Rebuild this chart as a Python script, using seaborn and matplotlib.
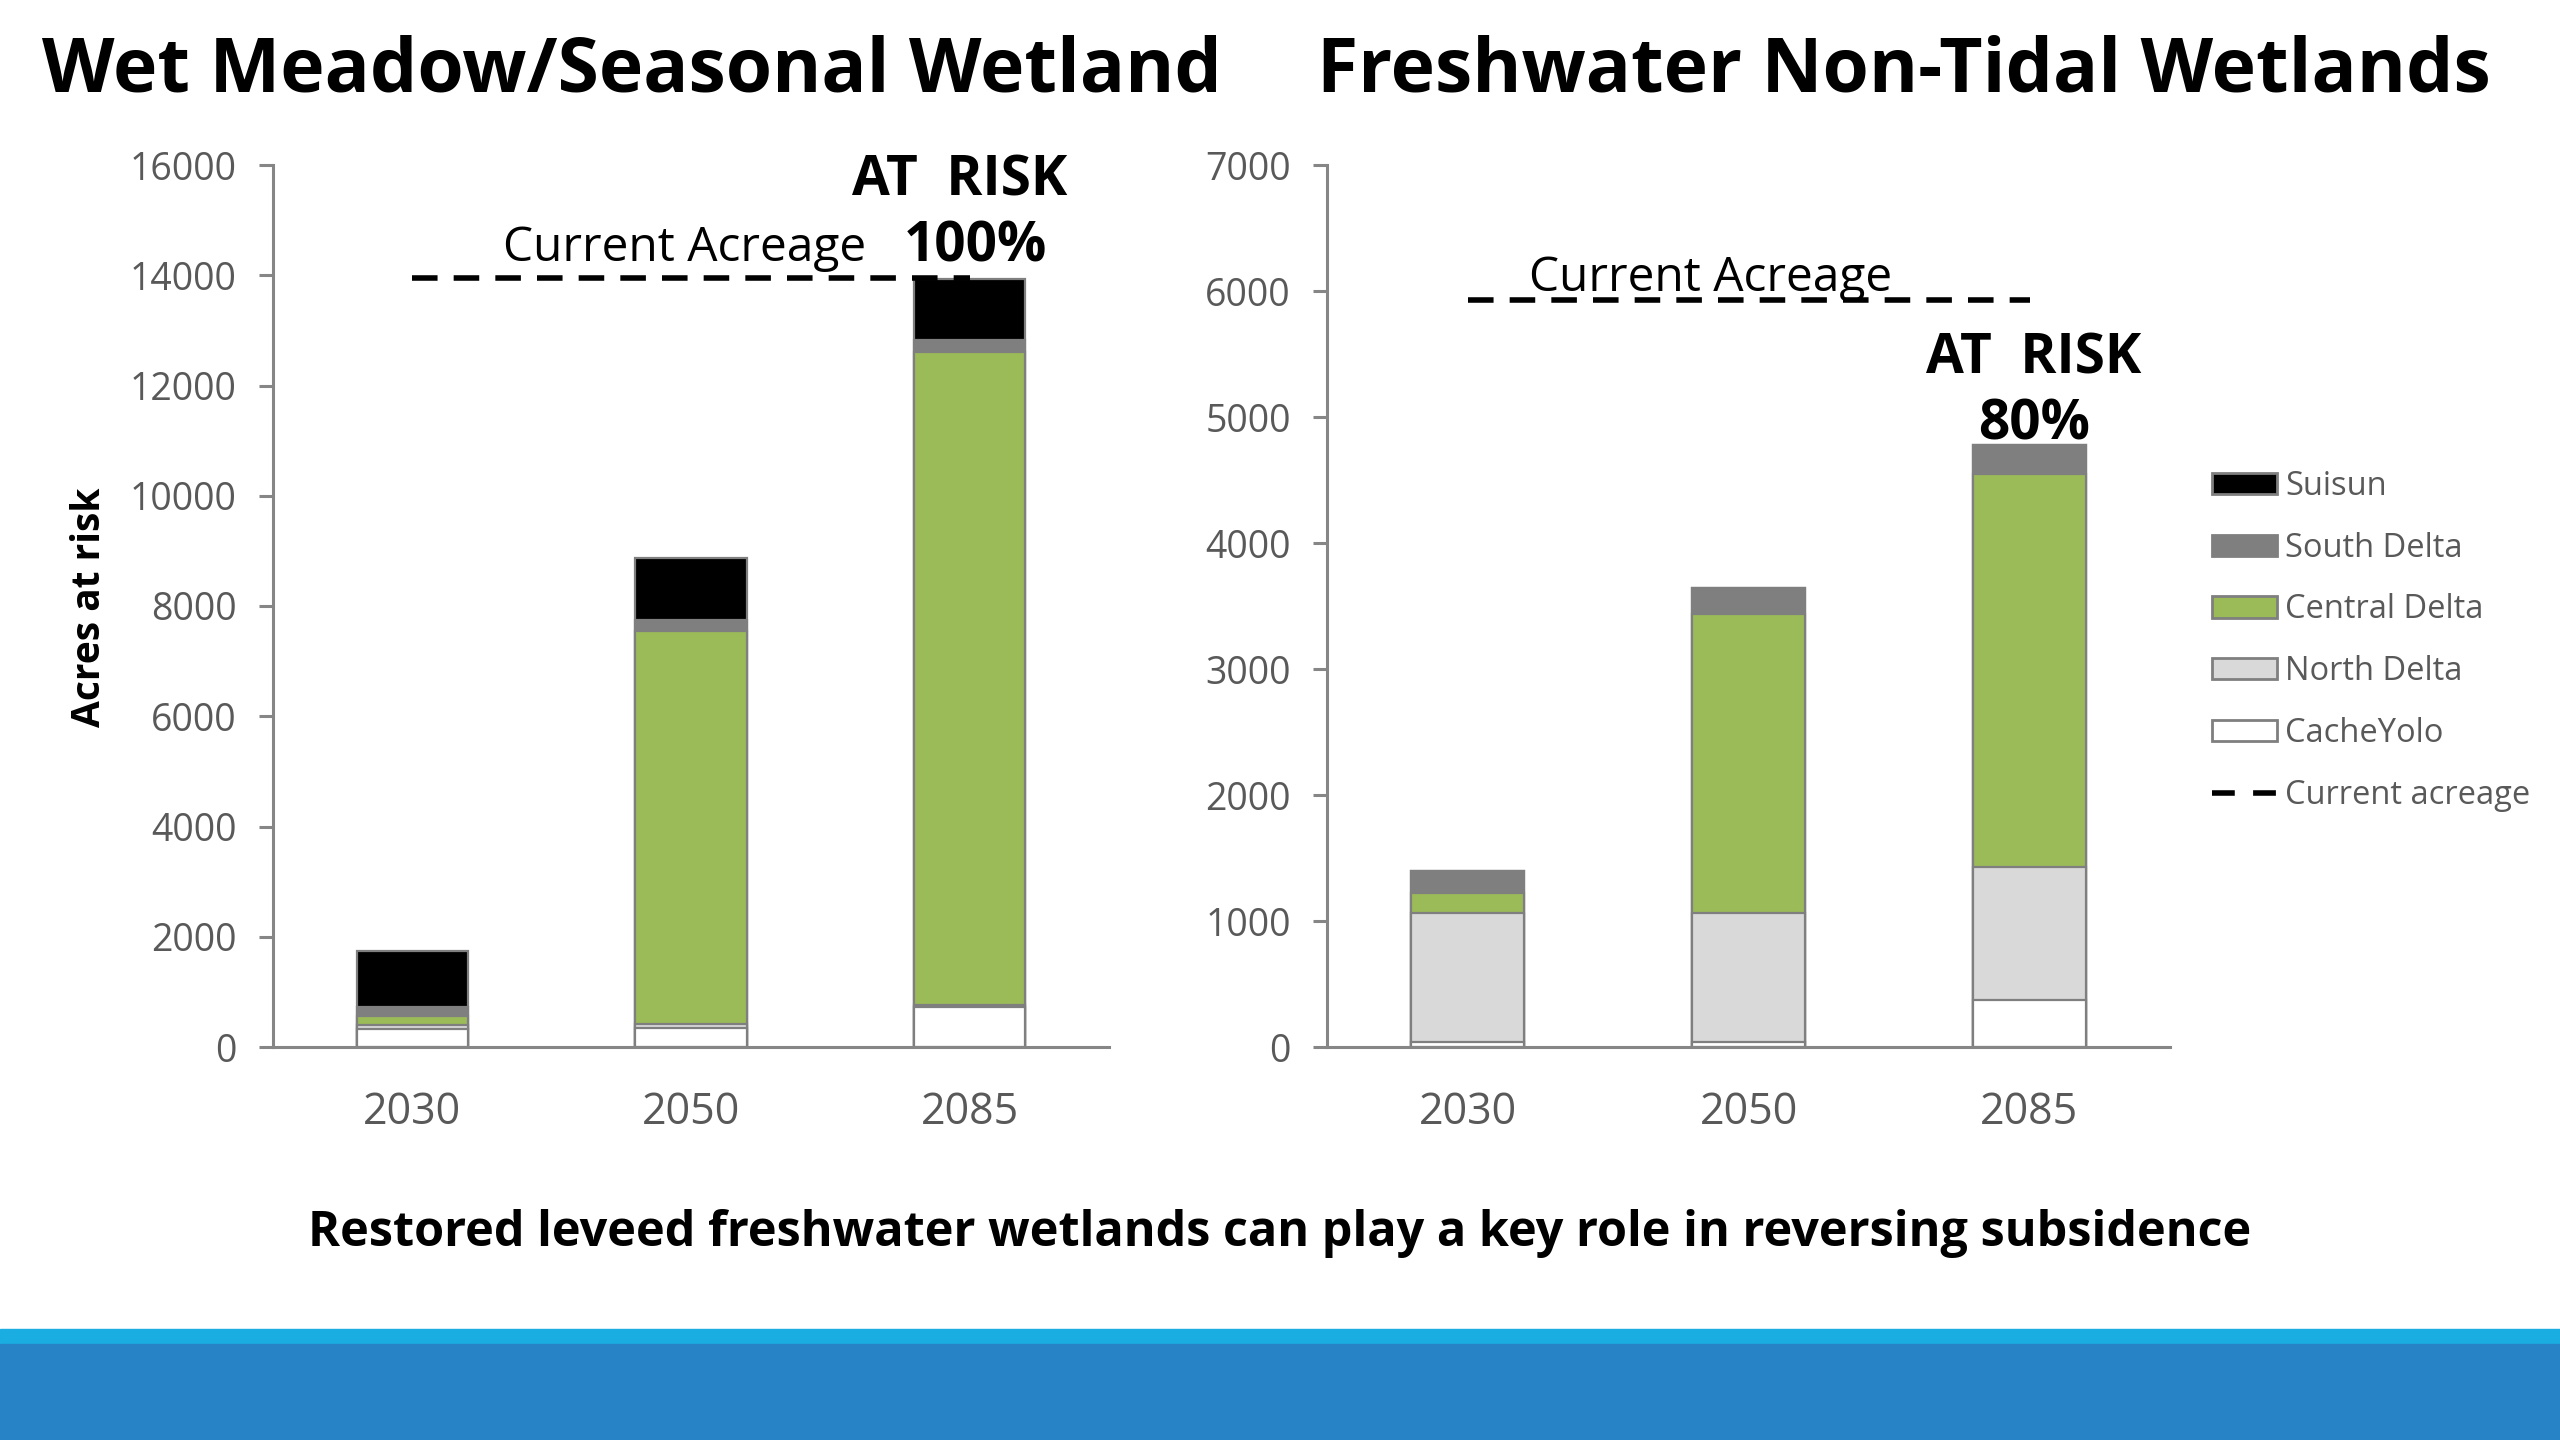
import numpy as np
import pandas as pd
import matplotlib
matplotlib.use('Agg')
import matplotlib.pyplot as plt
from matplotlib.patches import Patch, Rectangle
from matplotlib.lines import Line2D
import seaborn as sns

sns.set_style('white')
plt.rcParams['font.family'] = ['Open Sans', 'DejaVu Sans']
plt.rcParams['text.color'] = 'black'

# data
years = ['2030', '2050', '2085']
regions = ['Suisun', 'South Delta', 'Central Delta', 'North Delta', 'CacheYolo']
region_colors = ['#000000', '#7f7f7f', '#9bbb59', '#d9d9d9', '#ffffff']

# Wet Meadow/Seasonal Wetland (acres)
wm_cacheyolo = [330, 340, 730]
wm_north = [70, 80, 40]
wm_central = [165, 7130, 11830]
wm_south = [165, 200, 220]
wm_suisun = [1010, 1125, 1105]
wm_current = 13950

# Freshwater Non-Tidal Wetlands (acres)
fw_cacheyolo = [40, 40, 375]
fw_north = [1025, 1020, 1050]
fw_central = [155, 2380, 3125]
fw_south = [180, 200, 230]
fw_suisun = [0, 0, 0]
fw_current = 5930

edge = '#7f7f7f'
grey_txt = '#595959'


def stacked(ax, parts, current, ymax, ystep):
    # parts are bottom -> top: CacheYolo, North, Central, South, Suisun
    df = pd.DataFrame(dict(zip(regions[::-1], parts)), index=years)
    cum = df.cumsum(axis=1)
    # draw tallest cumulative first so the lower segments sit on top
    for reg, col in zip(regions, region_colors):
        sns.barplot(x=years, y=cum[reg].values, color=col, width=0.4,
                    edgecolor=edge, linewidth=1.6, saturation=1, ax=ax)
    ax.plot(range(len(years)), [current] * len(years), color='black',
            lw=4, dashes=(4.6, 2.9), solid_capstyle='butt')
    ax.set_xlim(-0.5, 2.5)
    ax.set_ylim(0, ymax)
    ax.set_yticks(np.arange(0, ymax + 1, ystep))
    ax.set_xlabel('')
    ax.set_ylabel('')
    for s in ['top', 'right']:
        ax.spines[s].set_visible(False)
    for s in ['left', 'bottom']:
        ax.spines[s].set_color('#868686')
        ax.spines[s].set_linewidth(2.2)
    ax.tick_params(axis='y', length=10, width=2.2, color='#868686',
                   labelsize=27, labelcolor=grey_txt, pad=16, left=True)
    ax.tick_params(axis='x', length=0, labelsize=31, labelcolor=grey_txt, pad=31)


fig = plt.figure(figsize=(25.6, 14.4), dpi=100)
W, H = 2560, 1440


def px_axes(x0, x1, y0, y1):
    return fig.add_axes([x0 / W, 1 - y1 / H, (x1 - x0) / W, (y1 - y0) / H])


ax1 = px_axes(273, 1109, 165, 1047)
ax2 = px_axes(1327, 2170, 165, 1047)

stacked(ax1, [wm_cacheyolo, wm_north, wm_central, wm_south, wm_suisun],
        wm_current, 16000, 2000)
stacked(ax2, [fw_cacheyolo, fw_north, fw_central, fw_south, fw_suisun],
        fw_current, 7000, 1000)


def ftext(x, y, s, **kw):
    fig.text(x / W, 1 - y / H, s, color='black', **kw)


# titles
ftext(632, 91, 'Wet Meadow/Seasonal Wetland', ha='center', va='baseline',
      fontsize=54, fontweight='bold')
ftext(1904, 91, 'Freshwater Non-Tidal Wetlands', ha='center', va='baseline',
      fontsize=54, fontweight='bold')

ftext(90, 607, 'Acres at risk', ha='center', va='center', rotation=90,
      fontsize=28, fontweight='bold')

# annotations
ftext(685, 261, 'Current Acreage', ha='center', va='baseline', fontsize=34.5)
ftext(960, 196, 'AT  RISK', ha='center', va='baseline', fontsize=39.5, fontweight='bold')
ftext(975, 261, '100%', ha='center', va='baseline', fontsize=39.5, fontweight='bold')

ftext(1711, 291, 'Current Acreage', ha='center', va='baseline', fontsize=34.5)
ftext(2034, 374, 'AT  RISK', ha='center', va='baseline', fontsize=39.5, fontweight='bold')
ftext(2034, 439, '80%', ha='center', va='baseline', fontsize=39.5, fontweight='bold')

ftext(1280, 1246, 'Restored leveed freshwater wetlands can play a key role in reversing subsidence',
      ha='center', va='baseline', fontsize=35, fontweight='bold')

# legend
handles = [Patch(facecolor=c, edgecolor=edge, linewidth=2) for c in region_colors]
handles.append(Line2D([0], [0], color='black', lw=4, dashes=(4.1, 3.3)))
labels = regions + ['Current acreage']
leg = fig.legend(handles, labels, loc='upper left', bbox_to_anchor=(2212 / W, 1 - 470 / H),
                 frameon=False, fontsize=23.5, handlelength=2.0, handleheight=0.62,
                 labelspacing=0.88, handletextpad=0.25, borderpad=0, borderaxespad=0)
for t in leg.get_texts():
    t.set_color(grey_txt)

# footer bands
fig.patches.append(Rectangle((0, 1 - 1344 / H), 1, 15 / H, transform=fig.transFigure,
                             color='#1aade2', zorder=0))
fig.patches.append(Rectangle((0, 0), 1, 1 - 1344 / H, transform=fig.transFigure,
                             color='#2883c6', zorder=0))

fig.savefig('out.png', dpi=100)
